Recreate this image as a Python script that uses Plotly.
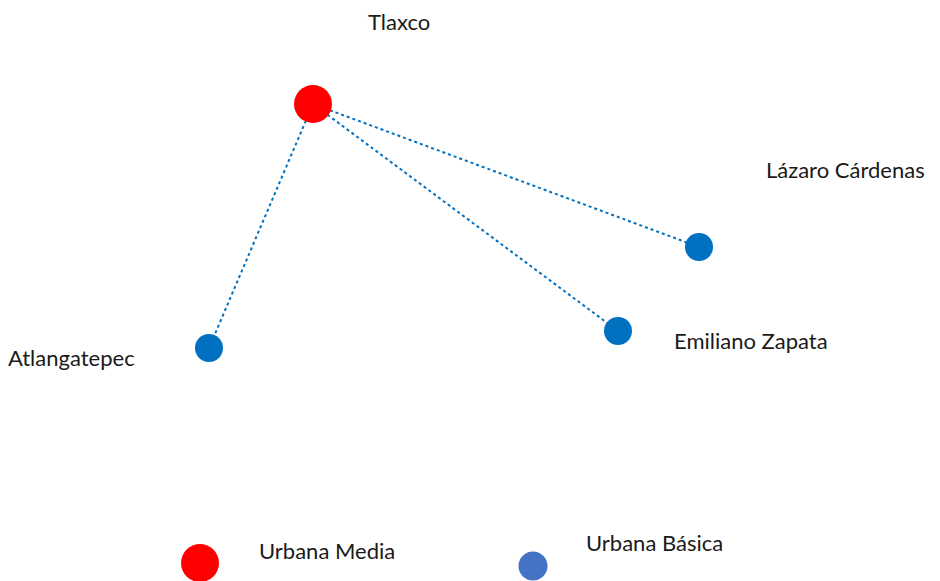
import plotly.graph_objects as go

# node positions (pixel-like units, y grows downward)
nodes = ['Tlaxco', 'Lázaro Cárdenas', 'Emiliano Zapata', 'Atlangatepec']
node_x = [313, 699, 618, 209]
node_y = [104, 247, 331, 348]
node_type = ['media', 'basica', 'basica', 'basica']

# label anchor points
label_x = [399, 927, 672, 137]
label_y = [21, 169, 340, 357]
label_anchor = ['center', 'right', 'left', 'right']

# links from Tlaxco
links = [(0, 1), (0, 2), (0, 3)]

legend_names = ['Urbana Media', 'Urbana Básica']
legend_x = [200, 533]
legend_y = [563, 566]
legend_label_x = [257, 584]
legend_label_y = [550, 542]

colors = {'media': '#FF0000', 'basica': '#0070C0'}
sizes = {'media': 38, 'basica': 28}
font = dict(family='Lato, Open Sans, sans-serif', size=22, color='#1a1a1a')

fig = go.Figure()
for a, b in links:
    fig.add_trace(go.Scatter(x=[node_x[a], node_x[b]], y=[node_y[a], node_y[b]], mode='lines',
                             line=dict(color='#0070C0', width=2, dash='dot'),
                             hoverinfo='skip', showlegend=False))

fig.add_trace(go.Scatter(x=node_x, y=node_y, mode='markers', showlegend=False,
                         marker=dict(color=[colors[t] for t in node_type], opacity=1,
                                     size=[sizes[t] for t in node_type], line=dict(width=0)),
                         text=nodes, hoverinfo='text'))

# legend-like markers
fig.add_trace(go.Scatter(x=legend_x, y=legend_y, mode='markers', showlegend=False,
                         marker=dict(color=['#FF0000', '#4472C4'], size=[38, 29], opacity=1,
                                     line=dict(width=0)),
                         hoverinfo='skip'))

for i, name in enumerate(nodes):
    fig.add_annotation(x=label_x[i], y=label_y[i], text=name, showarrow=False,
                       xanchor=label_anchor[i], yanchor='middle', font=font)
for i, name in enumerate(legend_names):
    fig.add_annotation(x=legend_label_x[i], y=legend_label_y[i], text=name, showarrow=False,
                       xanchor='left', yanchor='middle', font=font)

# page has an 8px body margin, so the figure is 8px smaller and ranges start at 8
fig.update_layout(width=932, height=573, margin=dict(l=0, r=0, t=0, b=0),
                  plot_bgcolor='white', paper_bgcolor='white',
                  xaxis=dict(range=[8, 940], visible=False, fixedrange=True),
                  yaxis=dict(range=[581, 8], visible=False, fixedrange=True))
fig.write_html('out.html')
